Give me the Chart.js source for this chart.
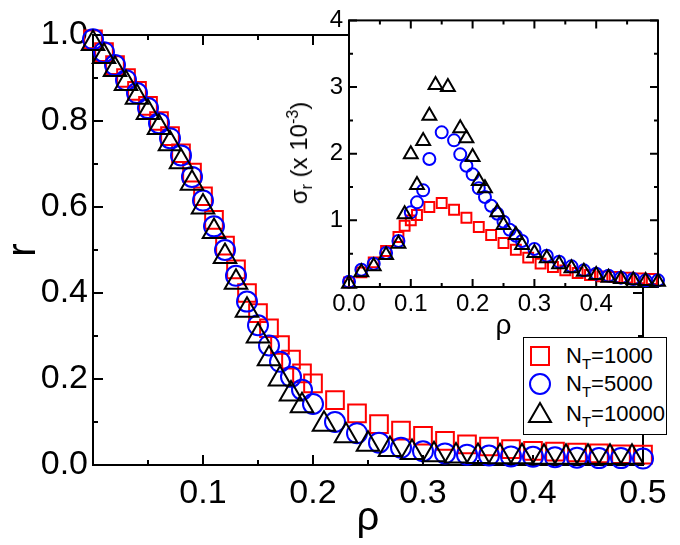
<!DOCTYPE html>
<html>
<head>
<meta charset="utf-8">
<script src="https://cdn.jsdelivr.net/npm/chart.js@4.4.1/dist/chart.umd.min.js"></script>
<style>
  body { margin: 0; background: #fff; }
  #wrap { position: relative; width: 680px; height: 545px; font-family: "Liberation Sans", Arial, sans-serif; color: #000; }
  #main { position: absolute; left: 0; top: 0; }
  #inset { position: absolute; left: 270px; top: 0; }
  #sigma { position: absolute; left: 300px; top: 153px; transform: translate(-50%, -50%) rotate(-90deg); font-size: 24px; white-space: nowrap; line-height: 1; }
  #sigma sub { font-size: 16px; vertical-align: -5px; }
  #sigma sup { font-size: 16px; vertical-align: 9px; }
  #legend { position: absolute; left: 523px; top: 337px; width: 142px; height: 96px; border: 1.5px solid #000; background: #fff; }
  .row { position: absolute; left: 0; height: 28px; width: 142px; }
  .row svg { position: absolute; left: 3px; top: 1px; }
  .row span { position: absolute; left: 42px; top: 2px; font-size: 22px; line-height: 24px; white-space: nowrap; }
  .row sub { font-size: 15px; vertical-align: -6px; line-height: 0; }
</style>
</head>
<body>
<div id="wrap">
  <canvas id="main" width="680" height="545"></canvas>
  <canvas id="inset" width="410" height="345"></canvas>
  <div id="sigma">σ<sub>r</sub> (x 10<sup>-3</sup>)</div>
  <div id="legend">
    <div class="row" style="top:4px"><svg width="26" height="26"><rect x="4" y="4" width="18" height="18" fill="none" stroke="#f00" stroke-width="2"/></svg><span>N<sub>T</sub>=1000</span></div>
    <div class="row" style="top:32px"><svg width="26" height="26"><circle cx="13" cy="13" r="10" fill="none" stroke="#00f" stroke-width="2"/></svg><span>N<sub>T</sub>=5000</span></div>
    <div class="row" style="top:62px"><svg width="26" height="26"><polygon points="13,2 24,21 2,21" fill="none" stroke="#000" stroke-width="2"/></svg><span>N<sub>T</sub>=10000</span></div>
  </div>
</div>
<script>
// main panel: r vs rho
const rhoA = [0, 0.01, 0.02, 0.03, 0.04, 0.05, 0.06, 0.07, 0.08, 0.09, 0.10, 0.11, 0.12, 0.13, 0.14, 0.15, 0.16, 0.17, 0.18, 0.19, 0.20,
  0.22, 0.24, 0.26, 0.28, 0.30, 0.32, 0.34, 0.36, 0.38, 0.40, 0.42, 0.44, 0.46, 0.48, 0.50];
const rhoB = [0, 0.01, 0.02, 0.03, 0.04, 0.05, 0.06, 0.07, 0.08, 0.09, 0.10, 0.11, 0.12, 0.13, 0.14, 0.15, 0.16, 0.17, 0.18, 0.19,
  0.21, 0.23, 0.25, 0.27, 0.29, 0.31, 0.33, 0.35, 0.37, 0.39, 0.41, 0.43, 0.45, 0.47, 0.49];
const r1000 = [0.99, 0.96, 0.93, 0.90, 0.87, 0.835, 0.80, 0.765, 0.725, 0.68, 0.625, 0.57, 0.51, 0.455, 0.40, 0.353, 0.318, 0.279, 0.245, 0.213, 0.19,
  0.151, 0.12, 0.095, 0.08, 0.068, 0.056, 0.048, 0.043, 0.037, 0.033, 0.031, 0.029, 0.027, 0.025, 0.024];
const r5000 = [0.99, 0.96, 0.93, 0.895, 0.865, 0.83, 0.795, 0.76, 0.72, 0.67, 0.615, 0.555, 0.50, 0.44, 0.38, 0.325, 0.278, 0.24, 0.205, 0.175, 0.142,
  0.10, 0.074, 0.052, 0.04, 0.032, 0.027, 0.024, 0.022, 0.02, 0.019, 0.018, 0.017, 0.016, 0.016, 0.015];
const r10000 = [0.98, 0.95, 0.92, 0.887, 0.855, 0.82, 0.785, 0.747, 0.705, 0.655, 0.60, 0.543, 0.485, 0.425, 0.36, 0.30, 0.247, 0.20, 0.165, 0.138,
  0.095, 0.068, 0.048, 0.036, 0.029, 0.024, 0.021, 0.02, 0.019, 0.019, 0.018, 0.018, 0.018, 0.018, 0.018];

// inset: sigma_r (x 10^-3) vs rho
const rhoS = [0, 0.02, 0.04, 0.06, 0.08, 0.09, 0.10, 0.11, 0.13, 0.15, 0.17, 0.19, 0.21, 0.23, 0.25, 0.27, 0.29, 0.31, 0.33, 0.35, 0.37, 0.39, 0.41, 0.43, 0.45, 0.47, 0.49];
const sig1000 = [0.07, 0.22, 0.37, 0.54, 0.75, 0.92, 1.0, 1.08, 1.2, 1.26, 1.16, 1.04, 0.9, 0.78, 0.66, 0.56, 0.44, 0.35, 0.3, 0.25, 0.21, 0.18, 0.16, 0.15, 0.14, 0.13, 0.12];
const rhoC = [0, 0.02, 0.04, 0.06, 0.08, 0.10, 0.11, 0.12, 0.13, 0.15, 0.17, 0.18, 0.19, 0.20, 0.21, 0.22, 0.23, 0.24, 0.25, 0.26, 0.27, 0.28,
  0.30, 0.32, 0.34, 0.36, 0.38, 0.40, 0.42, 0.44, 0.46, 0.48, 0.50];
const sig5000 = [0.08, 0.26, 0.35, 0.51, 0.69, 1.12, 1.27, 1.45, 1.92, 2.32, 2.2, 1.99, 1.82, 1.69, 1.48, 1.35, 1.22, 1.1, 0.98, 0.86, 0.77, 0.69,
  0.57, 0.47, 0.38, 0.31, 0.25, 0.2, 0.17, 0.14, 0.12, 0.1, 0.1];
const rhoT = [0, 0.02, 0.04, 0.06, 0.08, 0.09, 0.10, 0.11, 0.12, 0.13, 0.14, 0.16, 0.18, 0.19, 0.20, 0.21, 0.22, 0.24, 0.25, 0.27, 0.28,
  0.30, 0.32, 0.34, 0.36, 0.38, 0.40, 0.42, 0.44, 0.46, 0.48, 0.50];
const sig10000 = [0.05, 0.22, 0.31, 0.48, 0.65, 1.09, 1.99, 1.53, 2.19, 2.57, 3.03, 3.0, 2.38, 2.23, 1.95, 1.59, 1.48, 1.12, 0.93, 0.78, 0.63,
  0.51, 0.43, 0.34, 0.28, 0.23, 0.18, 0.14, 0.12, 0.1, 0.09, 0.08];

const FONT = '"Liberation Sans", Arial, sans-serif';
const pts = (xs, ys) => xs.map((x, i) => ({x: x, y: ys[i]}));

// closed frame with inward major/minor ticks on all four sides
const frame = {
  id: 'frame',
  beforeDraw(chart, args, o) {
    if (!o.fill) return;
    const a = chart.chartArea;
    chart.ctx.save();
    chart.ctx.fillStyle = '#fff';
    chart.ctx.fillRect(a.left, a.top, a.right - a.left, a.bottom - a.top);
    chart.ctx.restore();
  },
  beforeDatasetsDraw(chart, args, o) {
    const {ctx, chartArea: a} = chart;
    const {x, y} = chart.scales;
    const marks = s => {
      const v = s.ticks.map(t => t.value);
      const out = v.map(val => [val, o.major]);
      for (let i = 0; i < v.length - 1; i++) out.push([(v[i] + v[i + 1]) / 2, o.minor]);
      return out;
    };
    ctx.save();
    ctx.strokeStyle = '#000';
    ctx.lineWidth = o.lw;
    ctx.strokeRect(a.left, a.top, a.right - a.left, a.bottom - a.top);
    ctx.beginPath();
    marks(x).forEach(([v, len]) => {
      const p = x.getPixelForValue(v);
      ctx.moveTo(p, a.bottom); ctx.lineTo(p, a.bottom - len);
      ctx.moveTo(p, a.top); ctx.lineTo(p, a.top + len);
    });
    marks(y).forEach(([v, len]) => {
      const p = y.getPixelForValue(v);
      ctx.moveTo(a.left, p); ctx.lineTo(a.left + len, p);
      ctx.moveTo(a.right, p); ctx.lineTo(a.right - len, p);
    });
    ctx.stroke();
    ctx.restore();
  }
};

function series(data, style, color, radius, order) {
  return {
    data: data, showLine: false, pointStyle: style, pointRadius: radius, pointHoverRadius: radius,
    pointBorderWidth: 2, borderColor: color, pointBackgroundColor: 'rgba(0,0,0,0)', backgroundColor: 'rgba(0,0,0,0)',
    clip: false, order: order
  };
}

new Chart(document.getElementById('main'), {
  type: 'scatter',
  data: {
    datasets: [
      series(pts(rhoA, r1000), 'rect', '#ff0000', 12.5, 3),
      series(pts(rhoA, r5000), 'circle', '#0000ff', 10, 2),
      series(pts(rhoB, r10000), 'triangle', '#000000', 13, 1)
    ]
  },
  options: {
    responsive: false, animation: false, events: [],
    layout: {padding: {left: 0, right: 37, top: 35, bottom: 0}},
    plugins: {legend: {display: false}, tooltip: {enabled: false}, frame: {lw: 2, major: 10, minor: 5}},
    scales: {
      x: {
        type: 'linear', min: 0, max: 0.5,
        grid: {display: false, drawTicks: false}, border: {display: false},
        ticks: {stepSize: 0.1, autoSkip: false, maxRotation: 0, padding: 8, color: '#000',
          font: {family: FONT, size: 34}, callback: v => v === 0 ? '' : v.toFixed(1)},
        title: {display: true, text: 'ρ', color: '#000', font: {family: FONT, size: 40}, padding: {top: 0, bottom: 2}},
        afterFit: s => { s.height = 80; }
      },
      y: {
        type: 'linear', min: 0, max: 1,
        grid: {display: false, drawTicks: false}, border: {display: false},
        ticks: {stepSize: 0.2, autoSkip: false, padding: 5, color: '#000',
          font: {family: FONT, size: 34}, callback: v => v.toFixed(1)},
        title: {display: true, text: 'r', color: '#000', font: {family: FONT, size: 40}, padding: {top: 0, bottom: 0}},
        afterFit: s => { s.width = 93; }
      }
    }
  },
  plugins: [frame]
});

new Chart(document.getElementById('inset'), {
  type: 'scatter',
  data: {
    datasets: [
      series(pts(rhoS, sig1000), 'rect', '#ff0000', 7, 3),
      series(pts(rhoC, sig5000), 'circle', '#0000ff', 6, 2),
      series(pts(rhoT, sig10000), 'triangle', '#000000', 8, 1)
    ]
  },
  options: {
    responsive: false, animation: false, events: [],
    layout: {padding: {left: 0, right: 22, top: 17, bottom: 0}},
    plugins: {legend: {display: false}, tooltip: {enabled: false}, frame: {lw: 2, major: 8, minor: 4, fill: true}},
    scales: {
      x: {
        type: 'linear', min: 0, max: 0.5,
        grid: {display: false, drawTicks: false}, border: {display: false},
        ticks: {stepSize: 0.1, autoSkip: false, maxRotation: 0, padding: 3, color: '#000',
          font: {family: FONT, size: 24}, callback: v => v > 0.45 ? '' : v.toFixed(1)},
        title: {display: true, text: 'ρ', color: '#000', font: {family: FONT, size: 28}, padding: {top: 0, bottom: 2}},
        afterFit: s => { s.height = 58; }
      },
      y: {
        type: 'linear', min: 0, max: 4,
        grid: {display: false, drawTicks: false}, border: {display: false},
        ticks: {stepSize: 1, autoSkip: false, padding: 6, color: '#000',
          font: {family: FONT, size: 24}, callback: v => v === 0 ? '' : String(v)},
        afterFit: s => { s.width = 79; }
      }
    }
  },
  plugins: [frame]
});
</script>
</body>
</html>
